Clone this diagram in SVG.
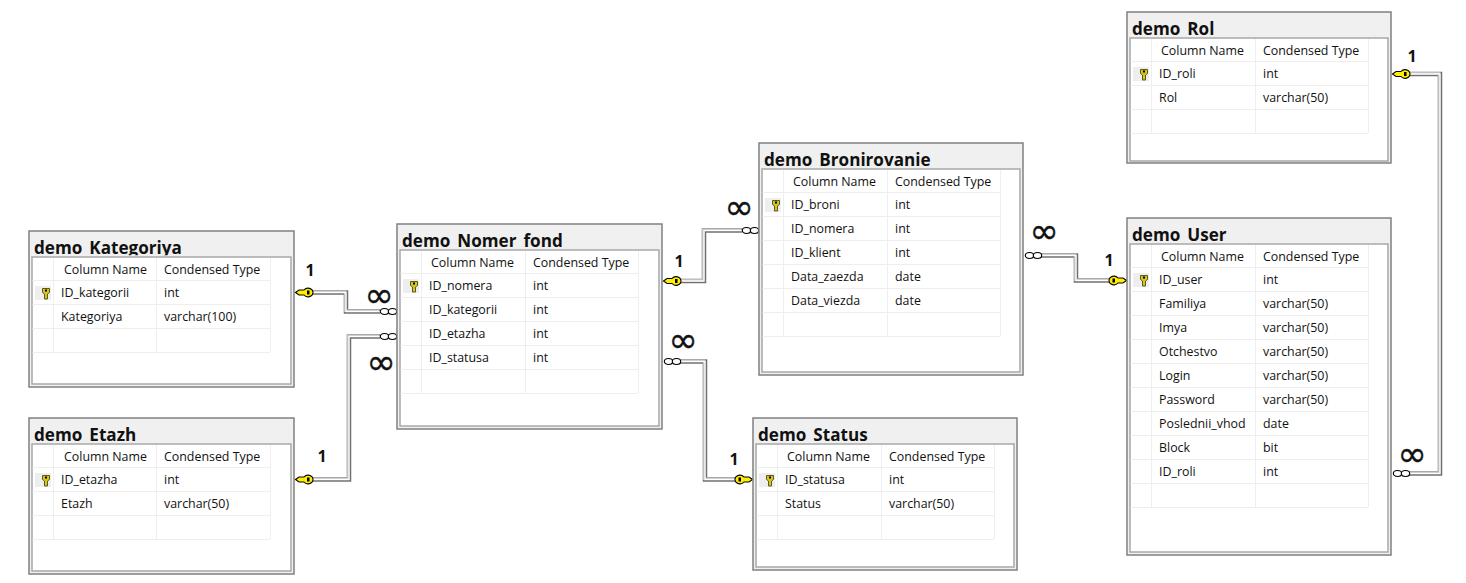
<svg xmlns="http://www.w3.org/2000/svg" xmlns:xlink="http://www.w3.org/1999/xlink" width="1466" height="583" viewBox="0 0 1466 583">
<style>
text{font-family:"Open Sans","Noto Sans","Liberation Sans",sans-serif;fill:#111}
.o{fill:#f0f0f0;stroke:#808080;stroke-width:1.500}
.g{fill:#fff;stroke:#a8a8a8;stroke-width:1.500}
.t{font-size:17.100px;font-weight:700;clip-path:url(#tc)}
.c{font-size:12.400px}
.l{stroke:#eeeeee;stroke-width:1;fill:none}
.kb{fill:#eeeeee}
.w1{fill:none;stroke:#707070;stroke-width:4.500}
.w2{fill:none;stroke:#c0c0c0;stroke-width:2.500;transform:translate(-.8px,-.8px)}
.w3{fill:none;stroke:#fff;stroke-width:1.300}
.one{font-size:16px;font-weight:700}
.inf{font-size:35px;font-family:"DejaVu Sans",sans-serif;stroke:#111;stroke-width:.4}
.cr{fill:#fff;stroke:#000;stroke-width:1.100}
.k{fill:#ffee00;stroke:#000;stroke-width:1.100}
.kk{fill:#000}
.tk{fill:#d6c420;stroke:#5a5a1a;stroke-width:1}
</style>
<defs>
<clipPath id="tc"><rect x="0" y="0" width="264" height="24.300"/></clipPath>
<g id="rk"><rect class="kb" x="3" y="-6" width="16" height="14"/><path class="tk" d="M10.500 -3.500h7v4l-2 1.500v5h-3v-5l-2-1.500z"/><rect class="kk" x="13" y="-2.500" width="2" height="2"/></g>
<g id="keyL"><path class="k" d="M0.500 0l3.500-2.500h5a5 4.500 0 0 1 9 2.500a5 4.500 0 0 1-9 2.500h-5z"/><rect class="kk" x="12" y="-2" width="2.500" height="4"/></g>
<g id="keyR"><use xlink:href="#keyL" href="#keyL" transform="matrix(-1 0 0 1 18 0)"/></g>
<g id="ring"><ellipse class="cr" cx="4.500" cy="0" rx="4.200" ry="3"/><ellipse class="cr" cx="12.500" cy="0" rx="4.200" ry="3"/></g>
</defs>

<g id="connectors">
<path class="w1" d="M312 292.500H346V311.500H380"/><path class="w2" d="M312 292.500H346V311.500H380"/><path class="w3" d="M312 292.500H346V311.500H380"/>
<path class="w1" d="M312 479.500H349V336.500H380"/><path class="w2" d="M312 479.500H349V336.500H380"/><path class="w3" d="M312 479.500H349V336.500H380"/>
<path class="w1" d="M680 281H704V230.500H742"/><path class="w2" d="M680 281H704V230.500H742"/><path class="w3" d="M680 281H704V230.500H742"/>
<path class="w1" d="M1041 255.500H1076V280.500H1110"/><path class="w2" d="M1041 255.500H1076V280.500H1110"/><path class="w3" d="M1041 255.500H1076V280.500H1110"/>
<path class="w1" d="M1409 74H1440V473.500H1409"/><path class="w2" d="M1409 74H1440V473.500H1409"/><path class="w3" d="M1409 74H1440V473.500H1409"/>
<path class="w1" d="M680 361.500H705V479.500H735"/><path class="w2" d="M680 361.500H705V479.500H735"/><path class="w3" d="M680 361.500H705V479.500H735"/>
<use href="#keyL" x="295" y="292.500"/><use href="#ring" x="380" y="311.500"/>
<use href="#keyL" x="295" y="479.500"/><use href="#ring" x="380" y="336.500"/>
<use href="#keyL" x="663" y="281"/><use href="#ring" x="742" y="230.500"/>
<use href="#ring" x="1025" y="255.500"/><use href="#keyR" x="1109" y="280.500"/>
<use href="#keyL" x="1392" y="74"/><use href="#ring" x="1393" y="473.500"/>
<use href="#ring" x="664" y="361.500"/><use href="#keyR" x="735" y="479.500"/>
<text class="one" x="310" y="276" text-anchor="middle">1</text>
<text class="one" x="322" y="462" text-anchor="middle">1</text>
<text class="one" x="679" y="267" text-anchor="middle">1</text>
<text class="one" x="1109" y="266" text-anchor="middle">1</text>
<text class="one" x="1412" y="62" text-anchor="middle">1</text>
<text class="one" x="734" y="465" text-anchor="middle">1</text>
<text class="inf" x="379" y="307" text-anchor="middle">∞</text>
<text class="inf" x="381" y="374" text-anchor="middle">∞</text>
<text class="inf" x="739" y="219" text-anchor="middle">∞</text>
<text class="inf" x="1044" y="243" text-anchor="middle">∞</text>
<text class="inf" x="1412" y="466" text-anchor="middle">∞</text>
<text class="inf" x="683" y="352" text-anchor="middle">∞</text>
</g>

<g id="demo_Kategoriya" transform="translate(29,231)">
<rect class="o" x="0" y="0" width="265" height="156"/><text class="t" x="5" y="23">demo_Kategoriya</text><rect class="g" x="3" y="26" width="259" height="127"/>
<path class="l" d="M3.500 49.500H241M3.500 73.500H241M3.500 97.500H241M3.500 121.500H241M24.500 27V121M127.500 27V121M241.500 27V121"/>
<use href="#rk" x="3" y="61"/>
<text class="c" x="35" y="43">Column Name</text><text class="c" x="135" y="43">Condensed Type</text>
<text class="c" x="32" y="66">ID_kategorii</text><text class="c" x="135" y="66">int</text>
<text class="c" x="32" y="90">Kategoriya</text><text class="c" x="135" y="90">varchar(100)</text>
</g>

<g id="demo_Etazh" transform="translate(29,418)">
<rect class="o" x="0" y="0" width="265" height="156"/><text class="t" x="5" y="23">demo_Etazh</text><rect class="g" x="3" y="26" width="259" height="127"/>
<path class="l" d="M3.500 49.500H241M3.500 73.500H241M3.500 97.500H241M3.500 121.500H241M24.500 27V121M127.500 27V121M241.500 27V121"/>
<use href="#rk" x="3" y="61"/>
<text class="c" x="35" y="43">Column Name</text><text class="c" x="135" y="43">Condensed Type</text>
<text class="c" x="32" y="66">ID_etazha</text><text class="c" x="135" y="66">int</text>
<text class="c" x="32" y="90">Etazh</text><text class="c" x="135" y="90">varchar(50)</text>
</g>

<g id="demo_Nomer_fond" transform="translate(397,224)">
<rect class="o" x="0" y="0" width="265" height="205"/><text class="t" x="5" y="23">demo_Nomer_fond</text><rect class="g" x="3" y="26" width="259" height="176"/>
<path class="l" d="M3.500 49.500H241M3.500 73.500H241M3.500 97.500H241M3.500 121.500H241M3.500 145.500H241M3.500 169.500H241M24.500 27V169M128.500 27V169M241.500 27V169"/>
<use href="#rk" x="3" y="61"/>
<text class="c" x="34" y="43">Column Name</text><text class="c" x="136" y="43">Condensed Type</text>
<text class="c" x="32" y="66">ID_nomera</text><text class="c" x="136" y="66">int</text>
<text class="c" x="32" y="90">ID_kategorii</text><text class="c" x="136" y="90">int</text>
<text class="c" x="32" y="114">ID_etazha</text><text class="c" x="136" y="114">int</text>
<text class="c" x="32" y="138">ID_statusa</text><text class="c" x="136" y="138">int</text>
</g>

<g id="demo_Bronirovanie" transform="translate(759,143)">
<rect class="o" x="0" y="0" width="264" height="232"/><text class="t" x="5" y="23">demo_Bronirovanie</text><rect class="g" x="3" y="26" width="258" height="203"/>
<path class="l" d="M3.500 49.500H241M3.500 73.500H241M3.500 97.500H241M3.500 121.500H241M3.500 145.500H241M3.500 169.500H241M3.500 193.500H241M24.500 27V193M128.500 27V193M241.500 27V193"/>
<use href="#rk" x="3" y="61"/>
<text class="c" x="34" y="43">Column Name</text><text class="c" x="136" y="43">Condensed Type</text>
<text class="c" x="32" y="66">ID_broni</text><text class="c" x="136" y="66">int</text>
<text class="c" x="32" y="90">ID_nomera</text><text class="c" x="136" y="90">int</text>
<text class="c" x="32" y="114">ID_klient</text><text class="c" x="136" y="114">int</text>
<text class="c" x="32" y="138">Data_zaezda</text><text class="c" x="136" y="138">date</text>
<text class="c" x="32" y="162">Data_viezda</text><text class="c" x="136" y="162">date</text>
</g>

<g id="demo_Status" transform="translate(753,418)">
<rect class="o" x="0" y="0" width="264" height="152"/><text class="t" x="5" y="23">demo_Status</text><rect class="g" x="3" y="26" width="258" height="123"/>
<path class="l" d="M3.500 49.500H241M3.500 73.500H241M3.500 97.500H241M3.500 121.500H241M24.500 27V121M128.500 27V121M241.500 27V121"/>
<use href="#rk" x="3" y="61"/>
<text class="c" x="34" y="43">Column Name</text><text class="c" x="136" y="43">Condensed Type</text>
<text class="c" x="32" y="66">ID_statusa</text><text class="c" x="136" y="66">int</text>
<text class="c" x="32" y="90">Status</text><text class="c" x="136" y="90">varchar(50)</text>
</g>

<g id="demo_User" transform="translate(1127,218)">
<rect class="o" x="0" y="0" width="264" height="337"/><text class="t" x="5" y="23">demo_User</text><rect class="g" x="3" y="26" width="258" height="308"/>
<path class="l" d="M3.500 49.500H241M3.500 73.500H241M3.500 97.500H241M3.500 121.500H241M3.500 145.500H241M3.500 169.500H241M3.500 193.500H241M3.500 217.500H241M3.500 241.500H241M3.500 265.500H241M3.500 289.500H241M24.500 27V289M128.500 27V289M241.500 27V289"/>
<use href="#rk" x="3" y="61"/>
<text class="c" x="34" y="43">Column Name</text><text class="c" x="136" y="43">Condensed Type</text>
<text class="c" x="32" y="66">ID_user</text><text class="c" x="136" y="66">int</text>
<text class="c" x="32" y="90">Familiya</text><text class="c" x="136" y="90">varchar(50)</text>
<text class="c" x="32" y="114">Imya</text><text class="c" x="136" y="114">varchar(50)</text>
<text class="c" x="32" y="138">Otchestvo</text><text class="c" x="136" y="138">varchar(50)</text>
<text class="c" x="32" y="162">Login</text><text class="c" x="136" y="162">varchar(50)</text>
<text class="c" x="32" y="186">Password</text><text class="c" x="136" y="186">varchar(50)</text>
<text class="c" x="32" y="210">Poslednii_vhod</text><text class="c" x="136" y="210">date</text>
<text class="c" x="32" y="234">Block</text><text class="c" x="136" y="234">bit</text>
<text class="c" x="32" y="258">ID_roli</text><text class="c" x="136" y="258">int</text>
</g>

<g id="demo_Rol" transform="translate(1127,12)">
<rect class="o" x="0" y="0" width="264" height="151"/><text class="t" x="5" y="23">demo_Rol</text><rect class="g" x="3" y="26" width="258" height="123"/>
<path class="l" d="M3.500 49.500H241M3.500 73.500H241M3.500 97.500H241M3.500 121.500H241M24.500 27V121M128.500 27V121M241.500 27V121"/>
<use href="#rk" x="3" y="61"/>
<text class="c" x="34" y="43">Column Name</text><text class="c" x="136" y="43">Condensed Type</text>
<text class="c" x="32" y="66">ID_roli</text><text class="c" x="136" y="66">int</text>
<text class="c" x="32" y="90">Rol</text><text class="c" x="136" y="90">varchar(50)</text>
</g>
</svg>
